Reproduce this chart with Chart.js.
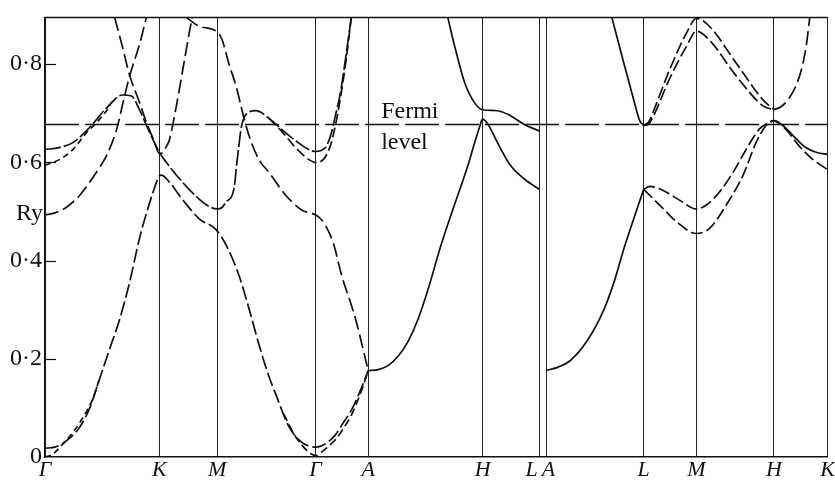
<!DOCTYPE html>
<html>
<head>
<meta charset="utf-8">
<script src="https://cdn.jsdelivr.net/npm/chart.js@4/dist/chart.umd.min.js"></script>
<style>
  html, body { margin: 0; padding: 0; background: #ffffff; }
  #wrap { width: 835px; height: 481px; }
</style>
</head>
<body>
<div id="wrap"><canvas id="c" width="835" height="481"></canvas></div>
<script>
// ---- high-symmetry points along the k-path ----
const symK     = [0, 115, 173, 272, 325, 440, 497, 504, 602, 655, 733, 787];
const symNames = ['Γ', 'K', 'M', 'Γ', 'A', 'H', 'L', 'A', 'L', 'M', 'H', 'K'];

// ---- energy axis ----
const yTicks      = [0, 0.2, 0.4, 0.6, 0.8];
const yTickLabels = ['0', '0·2', '0·4', '0·6', '0·8'];
const fermiE      = 0.677;

// ---- bands: k positions and energies (Ry) ----
const kB = [0, 14, 28, 45, 62, 78, 87, 95, 102, 110, 115, 122, 138, 155, 165, 173, 178, 182, 190, 193, 195, 197, 200, 205, 212, 225, 238, 252, 265, 272, 282, 288, 292, 297, 303, 308];
const eB = [0.626, 0.630, 0.640, 0.671, 0.711, 0.737, 0.735, 0.707, 0.675, 0.640, 0.620, 0.600, 0.560, 0.525, 0.510, 0.505, 0.508, 0.519, 0.546, 0.600, 0.634, 0.667, 0.690, 0.702, 0.705, 0.690, 0.667, 0.644, 0.626, 0.622, 0.630, 0.660, 0.695, 0.741, 0.822, 0.895];

const kB2 = [225, 238, 252, 265, 272, 280, 287, 292, 297, 303, 308];
const eB2 = [0.690, 0.663, 0.630, 0.606, 0.600, 0.606, 0.634, 0.675, 0.730, 0.812, 0.895];

const kA = [70, 77, 85, 95, 102, 110, 115, 118, 122, 125, 132, 138, 145, 148];
const eA = [0.895, 0.842, 0.778, 0.722, 0.681, 0.642, 0.618, 0.619, 0.632, 0.645, 0.714, 0.782, 0.863, 0.895];

const kC = [0, 10, 22, 35, 45, 55, 62, 72, 80, 85, 95, 102];
const eC = [0.493, 0.497, 0.509, 0.533, 0.560, 0.590, 0.614, 0.667, 0.735, 0.775, 0.840, 0.895];

const kD = [0, 15, 28, 42, 52, 60, 66];
const eD = [0.594, 0.606, 0.626, 0.661, 0.681, 0.700, 0.716];

const kL1 = [0, 10, 22, 35, 45, 55, 65, 75, 85, 95, 108, 115, 117, 125, 138, 155, 172, 182, 195, 205, 215, 225, 232, 245, 258, 268, 272, 282, 292, 300, 308, 315, 320, 325];
const eL1 = [0.018, 0.020, 0.034, 0.061, 0.100, 0.160, 0.220, 0.280, 0.355, 0.445, 0.535, 0.572, 0.574, 0.560, 0.525, 0.485, 0.463, 0.432, 0.370, 0.303, 0.230, 0.165, 0.128, 0.063, 0.030, 0.021, 0.020, 0.027, 0.045, 0.070, 0.095, 0.125, 0.150, 0.176];

const kL2 = [0, 8, 15, 28, 38, 48, 55];
const eL2 = [0.000, 0.006, 0.020, 0.050, 0.080, 0.118, 0.160];

const kL3 = [240, 250, 260, 268, 272, 278, 285, 292, 300, 308, 315, 320, 325];
const eL3 = [0.088, 0.048, 0.020, 0.006, 0.003, 0.010, 0.022, 0.035, 0.058, 0.085, 0.118, 0.145, 0.176];

const kE = [142, 155, 172, 178, 185, 192, 198, 205, 215, 225, 242, 258, 272, 278, 285, 290, 298, 312, 325];
const eE = [0.895, 0.877, 0.867, 0.850, 0.800, 0.756, 0.707, 0.655, 0.606, 0.580, 0.533, 0.503, 0.493, 0.483, 0.460, 0.435, 0.372, 0.283, 0.176];

const kG = [325, 335, 345, 355, 365, 375, 385, 398, 412, 425, 432, 437, 440, 443, 447, 455, 468, 482, 497];
const eG = [0.176, 0.178, 0.186, 0.205, 0.235, 0.280, 0.340, 0.430, 0.515, 0.592, 0.640, 0.672, 0.688, 0.684, 0.672, 0.640, 0.594, 0.566, 0.545];

const kH = [405, 412, 422, 432, 440, 455, 468, 482, 497];
const eH = [0.895, 0.836, 0.762, 0.721, 0.707, 0.705, 0.695, 0.677, 0.664];

const kI = [504, 516, 528, 545, 562, 572, 583, 592, 602];
const eI = [0.176, 0.183, 0.196, 0.236, 0.300, 0.355, 0.430, 0.485, 0.545];

const kJ = [570, 582, 592, 598, 602];
const eJ = [0.895, 0.802, 0.727, 0.685, 0.675];

const kP1 = [602, 607, 612, 628, 645, 655, 668, 695, 722, 733];
const eP1 = [0.675, 0.682, 0.705, 0.788, 0.863, 0.893, 0.877, 0.802, 0.727, 0.707];

const kP2 = [602, 607, 612, 628, 645, 655, 668, 695, 722, 733];
const eP2 = [0.675, 0.678, 0.695, 0.770, 0.836, 0.867, 0.849, 0.776, 0.715, 0.707];

const kQ = [733, 740, 748, 756, 762, 766, 769];
const eQ = [0.707, 0.713, 0.730, 0.760, 0.800, 0.845, 0.895];

const kR1a = [602, 608, 612, 625, 638, 655, 665, 678, 692, 705, 718, 728, 733];
const eR1a = [0.545, 0.551, 0.550, 0.539, 0.523, 0.505, 0.513, 0.539, 0.580, 0.626, 0.667, 0.681, 0.685];

const kR1b = [733, 742, 752, 765, 776, 787];
const eR1b = [0.685, 0.675, 0.655, 0.630, 0.620, 0.616];

const kR2 = [602, 618, 635, 655, 668, 685, 702, 715, 725, 733, 745, 758, 772, 787];
const eR2 = [0.545, 0.513, 0.479, 0.455, 0.465, 0.513, 0.574, 0.640, 0.675, 0.685, 0.667, 0.634, 0.606, 0.585];

// ---- styling ----
const INK = '#111111';
const SERIF = "'Liberation Serif', 'DejaVu Serif', serif";

function band(k, e, dash) {
  return {
    data: k.map((x, i) => ({ x: x, y: e[i] })),
    showLine: true,
    borderColor: INK,
    borderWidth: 1.7,
    borderDash: dash,
    pointRadius: 0,
    pointHoverRadius: 0,
    cubicInterpolationMode: 'monotone',
    fill: false
  };
}

const LONG = [14, 5];
const datasets = [
  band([0, 787], [fermiE, fermiE], [34, 6]),
  band(kB, eB, [16, 3]),
  band(kB2, eB2, [10, 4]),
  band(kA, eA, LONG),
  band(kC, eC, LONG),
  band(kD, eD, [6, 4]),
  band(kL1, eL1, [14, 4]),
  band(kL2, eL2, [6, 4]),
  band(kL3, eL3, [8, 4]),
  band(kE, eE, LONG),
  band(kG, eG, []),
  band(kH, eH, []),
  band(kI, eI, []),
  band(kJ, eJ, []),
  band(kP1, eP1, [12, 4]),
  band(kP2, eP2, [12, 4]),
  band(kQ, eQ, LONG),
  band(kR1a, eR1a, [12, 4]),
  band(kR1b, eR1b, []),
  band(kR2, eR2, [12, 4])
];
datasets[0].borderWidth = 1.5;
datasets[0].cubicInterpolationMode = 'default';

const decor = {
  id: 'decor',
  afterDatasetsDraw(chart) {
    const { ctx, chartArea: a, scales: { x, y } } = chart;
    ctx.save();
    ctx.strokeStyle = INK;
    ctx.lineWidth = 1.5;
    ctx.beginPath();
    ctx.moveTo(a.left, a.top);
    ctx.lineTo(a.right, a.top);
    ctx.stroke();
    ctx.lineWidth = 1.2;
    yTicks.forEach(v => {
      if (v === 0) return;
      const py = Math.round(y.getPixelForValue(v)) + 0.5;
      ctx.beginPath();
      ctx.moveTo(a.left, py);
      ctx.lineTo(a.left + 11, py);
      ctx.stroke();
    });
    ctx.fillStyle = INK;
    ctx.font = '24px ' + SERIF;
    ctx.textAlign = 'right';
    ctx.textBaseline = 'middle';
    ctx.fillText('Ry', a.left - 2, y.getPixelForValue(0.495));
    ctx.textAlign = 'left';
    ctx.textBaseline = 'alphabetic';
    const fy = y.getPixelForValue(fermiE);
    const fx = x.getPixelForValue(338);
    ctx.fillText('Fermi', fx, fy - 6);
    ctx.fillText('level', fx, fy + 25);
    ctx.restore();
  }
};

new Chart(document.getElementById('c'), {
  type: 'scatter',
  data: { datasets: datasets },
  options: {
    responsive: false,
    animation: false,
    devicePixelRatio: 1,
    layout: { padding: { top: 14, right: 3, left: 0, bottom: 0 } },
    plugins: { legend: { display: false }, tooltip: { enabled: false }, title: { display: false } },
    scales: {
      x: {
        type: 'linear',
        min: 0,
        max: 787,
        afterBuildTicks: s => { s.ticks = symK.map(v => ({ value: v })); },
        afterFit: s => { s.height = 24; },
        ticks: {
          autoSkip: false,
          maxRotation: 0,
          padding: 0,
          color: INK,
          font: { family: SERIF, style: 'italic', size: 22 },
          callback: (v, i) => {
            const n = symNames[i];
            const prev = i > 0 ? symK[i] - symK[i - 1] : 999;
            const next = i < symK.length - 1 ? symK[i + 1] - symK[i] : 999;
            if (next < 15) return n + '\u2002\u2009';
            if (prev < 15) return '\u2009' + n;
            return n;
          }
        },
        grid: { color: '#222222', lineWidth: 1, drawTicks: false },
        border: { display: true, color: INK, width: 1.5 }
      },
      y: {
        min: 0,
        max: 0.895,
        afterBuildTicks: s => { s.ticks = yTicks.map(v => ({ value: v })); },
        afterFit: s => { s.width = 45; },
        ticks: {
          padding: 3,
          color: INK,
          font: { family: SERIF, size: 24 },
          callback: (v, i) => yTickLabels[i]
        },
        grid: { display: false, drawTicks: false },
        border: { display: true, color: INK, width: 1.5 }
      }
    }
  },
  plugins: [decor]
});
</script>
</body>
</html>
